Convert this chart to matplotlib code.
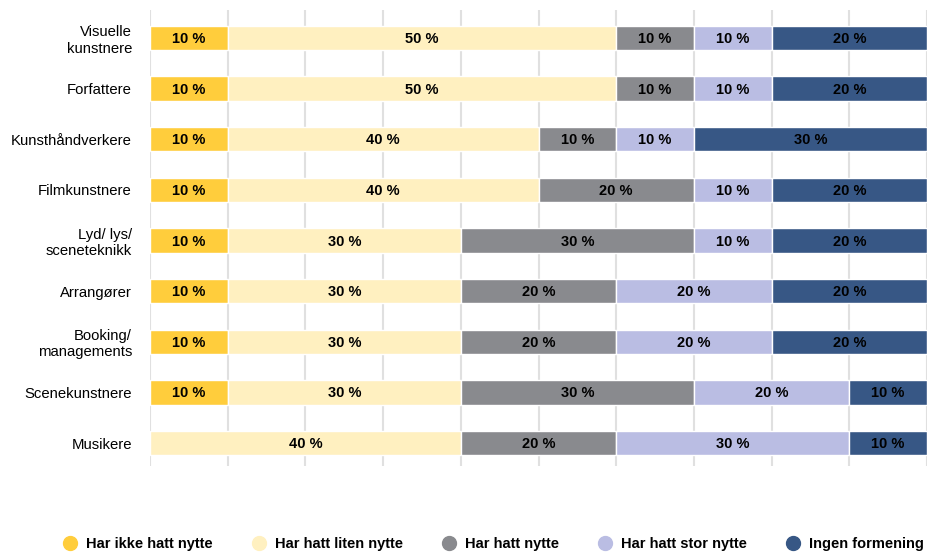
import matplotlib.pyplot as plt
from matplotlib.lines import Line2D

plt.rcParams['font.family'] = ['Liberation Sans', 'DejaVu Sans']

categories = ['Visuelle\nkunstnere', 'Forfattere', 'Kunsthåndverkere', 'Filmkunstnere',
              'Lyd/ lys/\nsceneteknikk', 'Arrangører', 'Booking/\nmanagements',
              'Scenekunstnere', 'Musikere']
series = ['Har ikke hatt nytte', 'Har hatt liten nytte', 'Har hatt nytte',
          'Har hatt stor nytte', 'Ingen formening']
ikke_nytte = [10, 10, 10, 10, 10, 10, 10, 10, 0]
liten_nytte = [50, 50, 40, 40, 30, 30, 30, 30, 40]
nytte = [10, 10, 10, 20, 30, 20, 20, 30, 20]
stor_nytte = [10, 10, 10, 10, 10, 20, 20, 20, 30]
ingen = [20, 20, 30, 20, 20, 20, 20, 10, 10]
values = [ikke_nytte, liten_nytte, nytte, stor_nytte, ingen]
colors = ['#FFCD3C', '#FFF0C0', '#898A8E', '#BABDE3', '#375785']

fig = plt.figure(figsize=(9.29, 5.52), dpi=100)
ax = fig.add_axes([150 / 929, 1 - 466 / 552, 777 / 929, 456 / 552])

y = list(range(len(categories)))
left = [0] * len(categories)
for name, vals, col in zip(series, values, colors):
    ax.barh(y, vals, left=left, height=0.48, color=col, edgecolor='white',
            linewidth=1, label=name, zorder=3)
    for i, v in enumerate(vals):
        if v > 0:
            ax.text(left[i] + v / 2, i + 0.02, f'{v} %', ha='center', va='center',
                    fontsize=10.5, fontweight='bold', color='black', zorder=4)
    left = [l + v for l, v in zip(left, vals)]

ax.set_xlim(0, 100)
ax.set_ylim(8.454, -0.553)
ax.set_xticks(range(0, 101, 10))
ax.set_xticklabels([])
ax.set_yticks(y)
ax.set_yticklabels(categories, fontsize=10.7)
ax.tick_params(length=0, pad=13)
ax.grid(axis='x', color='#e0e0e0', linewidth=1.5, zorder=0)
ax.set_axisbelow(True)
for s in ax.spines.values():
    s.set_visible(False)

handles = [Line2D([], [], marker='o', linestyle='', markersize=10,
                  markerfacecolor=c, markeredgecolor=c) for c in colors]
fig.legend(handles, series, loc='lower center', ncol=5, frameon=False,
           bbox_to_anchor=(0.531, -0.022), prop={'weight': 'bold', 'size': 10.5},
           handlelength=1, handletextpad=0.6, columnspacing=2.65)

fig.savefig('out.png', dpi=100)
